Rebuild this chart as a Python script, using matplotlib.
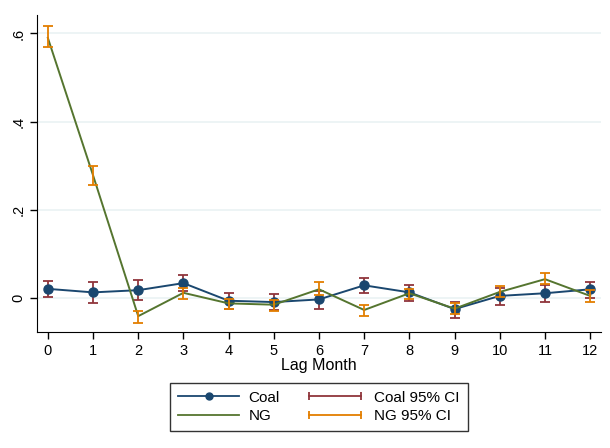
import numpy as np
import matplotlib.pyplot as plt
from matplotlib.lines import Line2D
from matplotlib.legend_handler import HandlerLine2D

plt.rcParams["font.family"] = ["Liberation Sans", "DejaVu Sans"]

lags = np.arange(13)

coal = [0.020, 0.012, 0.017, 0.033, -0.007, -0.010, -0.004, 0.028, 0.012, -0.026, 0.004, 0.010, 0.019]
coal_hi = [0.037, 0.035, 0.039, 0.052, 0.011, 0.008, 0.015, 0.045, 0.028, -0.010, 0.023, 0.028, 0.035]
coal_lo = [0.002, -0.012, -0.006, 0.015, -0.025, -0.028, -0.025, 0.010, -0.008, -0.046, -0.016, -0.010, 0.000]

ng = [0.590, 0.278, -0.042, 0.011, -0.013, -0.016, 0.019, -0.028, 0.010, -0.025, 0.013, 0.042, 0.004]
ng_hi = [0.616, 0.300, -0.030, 0.022, -0.003, -0.006, 0.035, -0.016, 0.019, -0.013, 0.026, 0.056, 0.017]
ng_lo = [0.569, 0.257, -0.057, -0.003, -0.026, -0.030, 0.007, -0.042, -0.004, -0.038, 0.001, 0.030, -0.010]

yticks = [0, 0.2, 0.4, 0.6]
ytick_labels = ["0", ".2", ".4", ".6"]

c_coal = "#1a476f"
c_coal_ci = "#90353b"
c_ng = "#55752f"
c_ng_ci = "#e37e00"

fig = plt.figure(figsize=(6.1, 4.48), dpi=100)
ax = fig.add_axes([37/610, 1 - 332/448, 564/610, 317/448])

coal = np.array(coal)
ng = np.array(ng)

ax.errorbar(lags, coal, yerr=[coal - np.array(coal_lo), np.array(coal_hi) - coal],
            fmt="none", ecolor=c_coal_ci, elinewidth=1.3, capsize=3.5, capthick=1.3, zorder=3)
ax.plot(lags, coal, "-o", color=c_coal, lw=1.4, ms=6.5, zorder=4)
ax.plot(lags, ng, "-", color=c_ng, lw=1.4, zorder=5)
ax.errorbar(lags, ng, yerr=[ng - np.array(ng_lo), np.array(ng_hi) - ng],
            fmt="none", ecolor=c_ng_ci, elinewidth=1.3, capsize=3.5, capthick=1.3, zorder=6)

ax.set_xlim(-0.24, 12.24)
ax.set_ylim(-0.078, 0.642)
ax.set_xticks(lags)
ax.set_yticks(yticks)
ax.set_yticklabels(ytick_labels, rotation=90, va="center")
ax.grid(axis="y", color="#eaf2f3", lw=1.2)
ax.set_axisbelow(True)
for s in ["top", "right"]:
    ax.spines[s].set_visible(False)
ax.tick_params(labelsize=10.5, length=5, width=1)
ax.set_xlabel("Lag Month", fontsize=11.5, labelpad=0)

h_coal = Line2D([], [], color=c_coal, marker="o", ms=5, lw=1.3)
h_ng = Line2D([], [], color=c_ng, lw=1.3)
h_coal_ci = Line2D([], [], color=c_coal_ci, marker="|", ms=6, mew=1.3, lw=1.3)
h_ng_ci = Line2D([], [], color=c_ng_ci, marker="|", ms=6, mew=1.3, lw=1.3)
fig.legend([h_coal, h_ng, h_coal_ci, h_ng_ci],
           ["Coal", "NG", "Coal 95% CI", "NG 95% CI"],
           ncol=2, loc="center", bbox_to_anchor=(319/610, 1 - 407/448),
           fontsize=11, handlelength=4.0, handletextpad=0.6, columnspacing=1.6,
           fancybox=False, edgecolor="#333333", framealpha=1,
           borderpad=0.5, labelspacing=0.3,
           handler_map={h_coal_ci: HandlerLine2D(numpoints=2),
                        h_ng_ci: HandlerLine2D(numpoints=2)})

fig.savefig("out.png", dpi=100)
